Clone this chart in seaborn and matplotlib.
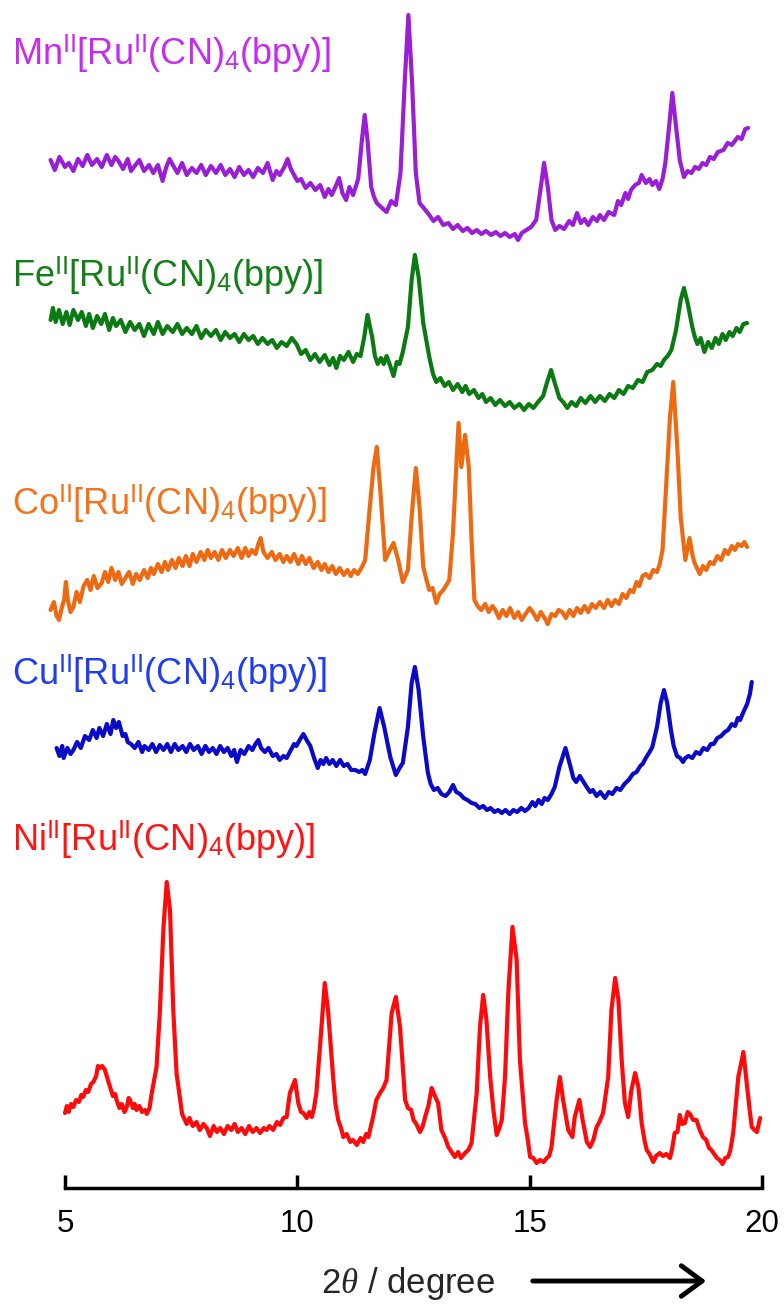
import matplotlib
matplotlib.use("Agg")
import matplotlib.pyplot as plt
from matplotlib.patches import FancyArrowPatch
import seaborn as sns
import numpy as np

# XRD patterns (arbitrary intensity units)
mn_2theta = [4.69, 4.78, 4.88, 5.00, 5.08, 5.18, 5.28, 5.38, 5.48, 5.58, 5.69, 5.79, 5.90, 6.00, 6.08, 6.15,
             6.25, 6.35, 6.42, 6.50, 6.60, 6.70, 6.81, 6.90, 7.00, 7.10, 7.18, 7.25, 7.32, 7.42, 7.52, 7.62,
             7.73, 7.83, 7.93, 8.03, 8.14, 8.25, 8.35, 8.45, 8.55, 8.65, 8.75, 8.85, 8.95, 9.05, 9.15, 9.26,
             9.36, 9.47, 9.55, 9.62, 9.72, 9.79, 9.86, 9.93, 10.00, 10.08, 10.18, 10.28, 10.39, 10.49, 10.59,
             10.67, 10.74, 10.82, 10.90, 10.97, 11.05, 11.12, 11.20, 11.27, 11.31, 11.39, 11.45, 11.51, 11.59,
             11.65, 11.71, 11.80, 11.92, 12.02, 12.12, 12.22, 12.31, 12.39, 12.47, 12.55, 12.63, 12.72, 12.84,
             12.93, 13.03, 13.14, 13.25, 13.35, 13.45, 13.56, 13.66, 13.76, 13.86, 13.96, 14.06, 14.17, 14.27,
             14.37, 14.47, 14.57, 14.68, 14.75, 14.83, 14.93, 15.03, 15.14, 15.24, 15.31, 15.39, 15.47, 15.55,
             15.64, 15.74, 15.85, 15.93, 16.02, 16.10, 16.18, 16.26, 16.36, 16.45, 16.51, 16.60, 16.70, 16.82,
             16.90, 16.97, 17.06, 17.12, 17.18, 17.27, 17.35, 17.41, 17.50, 17.58, 17.64, 17.72, 17.79, 17.86,
             17.92, 18.00, 18.07, 18.15, 18.23, 18.32, 18.40, 18.48, 18.56, 18.64, 18.72, 18.80, 18.88, 18.96,
             19.05, 19.17, 19.26, 19.35, 19.48, 19.56, 19.64, 19.70]
mn_counts = [85, 75, 88, 78, 82, 74, 86, 79, 90, 80, 86, 78, 90, 80, 88, 84,
             76, 86, 74, 79, 85, 74, 80, 72, 80, 64, 78, 86, 80, 72, 82, 70,
             77, 72, 80, 70, 79, 72, 80, 70, 76, 68, 78, 70, 75, 68, 77, 72,
             82, 65, 74, 70, 78, 86, 76, 70, 64, 66, 57, 62, 55, 60, 48,
             56, 50, 58, 67, 52, 45, 58, 50, 60, 66, 105, 130, 105, 58,
             48, 42, 38, 33, 44, 40, 72, 162, 230, 162, 72, 42, 37, 30,
             24, 28, 20, 22, 16, 20, 14, 17, 12, 15, 11, 14, 10, 13,
             9, 12, 8, 11, 5, 12, 15, 18, 25, 58, 82, 58, 25, 15,
             19, 16, 24, 20, 32, 22, 26, 20, 28, 24, 30, 25, 33, 30,
             44, 40, 52, 46, 55, 60, 62, 70, 62, 66, 60, 64, 56, 66,
             82, 118, 152, 118, 85, 68, 74, 72, 78, 76, 82, 80, 88, 86,
             93, 95, 102, 100, 108, 106, 116, 117]

fe_2theta = [4.69, 4.74, 4.80, 4.87, 4.95, 5.03, 5.10, 5.18, 5.28, 5.36, 5.45, 5.52, 5.60, 5.69, 5.78, 5.86,
             5.95, 6.03, 6.10, 6.20, 6.30, 6.40, 6.50, 6.60, 6.70, 6.80, 6.91, 7.00, 7.10, 7.20, 7.32, 7.42,
             7.52, 7.62, 7.73, 7.83, 7.93, 8.03, 8.14, 8.25, 8.35, 8.45, 8.55, 8.65, 8.75, 8.85, 8.95, 9.05,
             9.15, 9.25, 9.36, 9.46, 9.56, 9.66, 9.77, 9.88, 9.98, 10.08, 10.18, 10.28, 10.38, 10.48, 10.59,
             10.69, 10.77, 10.84, 10.92, 11.00, 11.10, 11.20, 11.28, 11.36, 11.44, 11.51, 11.61, 11.67, 11.73,
             11.80, 11.86, 11.92, 12.00, 12.07, 12.14, 12.20, 12.27, 12.38, 12.46, 12.53, 12.61, 12.71, 12.84,
             12.92, 12.99, 13.08, 13.17, 13.26, 13.35, 13.45, 13.55, 13.62, 13.70, 13.80, 13.90, 13.98, 14.06,
             14.16, 14.26, 14.36, 14.47, 14.57, 14.67, 14.78, 14.88, 14.98, 15.08, 15.18, 15.29, 15.37, 15.46,
             15.54, 15.64, 15.72, 15.81, 15.90, 16.00, 16.10, 16.20, 16.31, 16.41, 16.51, 16.62, 16.72, 16.82,
             16.92, 17.02, 17.12, 17.22, 17.33, 17.43, 17.53, 17.64, 17.74, 17.82, 17.89, 17.97, 18.05, 18.15,
             18.25, 18.32, 18.40, 18.50, 18.56, 18.61, 18.68, 18.76, 18.84, 18.92, 19.00, 19.07, 19.15, 19.22,
             19.30, 19.37, 19.45, 19.52, 19.60, 19.68]
fe_counts = [100, 112, 98, 110, 96, 108, 95, 110, 100, 108, 94, 106, 92, 104, 96, 106,
             90, 102, 94, 100, 88, 98, 90, 96, 84, 96, 86, 98, 86, 94, 88, 96,
             86, 92, 86, 94, 82, 90, 84, 90, 80, 88, 82, 86, 78, 86, 80, 84,
             76, 82, 76, 80, 72, 78, 74, 82, 76, 66, 70, 60, 66, 58, 65,
             55, 62, 52, 64, 60, 68, 58, 66, 64, 83, 105, 83, 64, 56,
             62, 56, 64, 54, 44, 58, 56, 68, 93, 140, 165, 143, 97, 63,
             46, 38, 42, 34, 38, 30, 36, 28, 34, 26, 30, 22, 26, 18,
             22, 15, 20, 14, 18, 12, 16, 10, 16, 12, 18, 24, 37, 50,
             37, 22, 18, 12, 18, 14, 22, 17, 24, 18, 24, 19, 26, 22,
             30, 26, 34, 32, 40, 38, 48, 50, 56, 54, 60, 64, 70, 90,
             120, 132, 117, 93, 82, 76, 82, 68, 78, 72, 82, 76, 86, 80,
             88, 84, 92, 88, 96, 97]

co_2theta = [4.69, 4.76, 4.82, 4.87, 4.93, 4.98, 5.02, 5.06, 5.12, 5.18, 5.25, 5.32, 5.40, 5.48, 5.55, 5.62,
             5.70, 5.79, 5.86, 5.93, 6.00, 6.08, 6.15, 6.22, 6.30, 6.38, 6.46, 6.53, 6.61, 6.70, 6.78, 6.85,
             6.91, 7.00, 7.08, 7.15, 7.22, 7.30, 7.38, 7.45, 7.53, 7.60, 7.68, 7.75, 7.83, 7.92, 8.00, 8.07,
             8.14, 8.22, 8.30, 8.38, 8.46, 8.55, 8.63, 8.72, 8.80, 8.88, 8.95, 9.02, 9.10, 9.16, 9.21, 9.27,
             9.36, 9.45, 9.53, 9.62, 9.70, 9.77, 9.85, 9.93, 10.02, 10.10, 10.18, 10.26, 10.35, 10.44, 10.52,
             10.59, 10.67, 10.75, 10.83, 10.91, 11.00, 11.08, 11.15, 11.22, 11.30, 11.38, 11.46, 11.56, 11.64,
             11.71, 11.79, 11.89, 11.96, 12.07, 12.17, 12.27, 12.38, 12.46, 12.55, 12.63, 12.71, 12.78, 12.84,
             12.91, 12.99, 13.06, 13.14, 13.22, 13.27, 13.35, 13.42, 13.47, 13.53, 13.61, 13.69, 13.75, 13.81,
             13.88, 13.96, 14.04, 14.12, 14.20, 14.26, 14.34, 14.42, 14.50, 14.58, 14.67, 14.75, 14.83, 14.91,
             15.00, 15.08, 15.16, 15.24, 15.32, 15.39, 15.47, 15.55, 15.62, 15.70, 15.78, 15.86, 15.94, 16.02,
             16.10, 16.18, 16.26, 16.34, 16.42, 16.51, 16.60, 16.68, 16.76, 16.84, 16.92, 17.00, 17.08, 17.16,
             17.23, 17.30, 17.36, 17.43, 17.50, 17.58, 17.66, 17.74, 17.80, 17.86, 17.94, 18.02, 18.09, 18.18,
             18.25, 18.35, 18.44, 18.50, 18.54, 18.60, 18.66, 18.73, 18.80, 18.88, 18.96, 19.04, 19.12, 19.20,
             19.27, 19.35, 19.42, 19.48, 19.56, 19.62, 19.68]
co_counts = [20, 28, 14, 10, 22, 30, 48, 30, 18, 23, 38, 28, 44, 50, 40, 54,
             42, 47, 58, 48, 62, 50, 58, 46, 52, 58, 46, 56, 50, 60, 52, 62,
             56, 66, 58, 68, 60, 70, 62, 72, 64, 74, 64, 76, 68, 78, 70, 80,
             72, 78, 70, 80, 72, 80, 74, 82, 72, 82, 74, 80, 76, 86, 92, 78,
             72, 78, 70, 76, 68, 74, 68, 76, 66, 74, 66, 72, 62, 68, 60,
             66, 58, 64, 56, 62, 55, 60, 54, 60, 56, 62, 70, 123, 163,
             183, 137, 70, 77, 87, 70, 48, 60, 113, 162, 123, 63, 50, 40,
             42, 27, 36, 40, 46, 50, 97, 163, 207, 163, 195, 163, 90, 30,
             24, 20, 26, 18, 24, 20, 12, 20, 14, 22, 12, 18, 10, 16,
             22, 17, 10, 18, 12, 6, 16, 14, 20, 18, 12, 20, 14, 22,
             17, 24, 18, 26, 22, 28, 22, 30, 24, 30, 26, 36, 32, 40,
             38, 48, 44, 54, 56, 52, 60, 58, 66, 80, 147, 213, 248, 180,
             113, 70, 92, 76, 68, 62, 56, 64, 60, 68, 66, 74, 70, 80,
             76, 84, 80, 86, 84, 88, 83]

cu_2theta = [4.82, 4.88, 4.94, 4.97, 5.05, 5.12, 5.18, 5.26, 5.34, 5.43, 5.52, 5.60, 5.68, 5.74, 5.82, 5.90,
             5.98, 6.04, 6.10, 6.16, 6.24, 6.30, 6.35, 6.42, 6.50, 6.58, 6.66, 6.71, 6.80, 6.88, 6.96, 7.04,
             7.12, 7.20, 7.28, 7.36, 7.44, 7.53, 7.61, 7.69, 7.77, 7.86, 7.94, 8.02, 8.10, 8.18, 8.26, 8.34,
             8.42, 8.50, 8.58, 8.64, 8.70, 8.78, 8.86, 8.95, 9.03, 9.10, 9.16, 9.22, 9.30, 9.38, 9.47, 9.55,
             9.62, 9.70, 9.77, 9.86, 9.93, 9.98, 10.05, 10.13, 10.20, 10.28, 10.36, 10.44, 10.50, 10.56, 10.62,
             10.69, 10.76, 10.84, 10.92, 11.00, 11.08, 11.16, 11.25, 11.33, 11.40, 11.46, 11.56, 11.66, 11.77,
             11.87, 12.00, 12.12, 12.20, 12.27, 12.38, 12.46, 12.53, 12.61, 12.71, 12.81, 12.87, 12.94, 13.02,
             13.10, 13.19, 13.27, 13.35, 13.42, 13.50, 13.58, 13.66, 13.75, 13.83, 13.92, 14.00, 14.08, 14.16,
             14.24, 14.32, 14.40, 14.48, 14.57, 14.65, 14.73, 14.82, 14.90, 14.98, 15.06, 15.12, 15.19, 15.26,
             15.32, 15.39, 15.47, 15.54, 15.64, 15.77, 15.88, 15.94, 16.00, 16.08, 16.16, 16.24, 16.30, 16.36,
             16.44, 16.52, 16.62, 16.70, 16.78, 16.87, 16.95, 17.04, 17.13, 17.22, 17.30, 17.38, 17.43, 17.50,
             17.58, 17.64, 17.74, 17.82, 17.89, 17.96, 18.04, 18.10, 18.17, 18.24, 18.30, 18.35, 18.42, 18.50,
             18.58, 18.66, 18.74, 18.82, 18.90, 18.96, 19.04, 19.12, 19.20, 19.27, 19.35, 19.42, 19.48, 19.53,
             19.60, 19.68, 19.74, 19.78]
cu_counts = [72, 64, 74, 62, 72, 66, 70, 78, 72, 84, 80, 90, 82, 92, 84, 96,
             86, 100, 92, 98, 84, 86, 78, 76, 72, 78, 68, 74, 70, 76, 68, 75,
             70, 76, 68, 76, 70, 74, 68, 76, 70, 74, 66, 74, 68, 72, 66, 74,
             68, 72, 64, 70, 58, 70, 66, 74, 70, 76, 80, 72, 68, 72, 64, 66,
             60, 64, 62, 70, 76, 74, 80, 86, 80, 74, 62, 52, 60, 56, 62,
             56, 60, 54, 60, 54, 56, 50, 50, 48, 50, 46, 60, 87, 112,
             93, 63, 45, 52, 57, 93, 137, 153, 130, 83, 47, 36, 30, 32,
             26, 24, 28, 35, 28, 26, 22, 20, 17, 16, 12, 14, 10, 12,
             8, 10, 7, 10, 6, 10, 8, 12, 9, 12, 18, 14, 20, 16,
             22, 20, 26, 33, 53, 72, 53, 42, 38, 44, 38, 32, 28, 30,
             24, 28, 22, 28, 26, 32, 30, 36, 40, 46, 48, 54, 56, 62,
             68, 73, 93, 117, 130, 117, 90, 74, 64, 62, 58, 62, 64, 62,
             68, 66, 72, 70, 76, 76, 82, 84, 88, 90, 96, 94, 102, 100,
             108, 116, 126, 138]

ni_2theta = [5.00, 5.04, 5.08, 5.13, 5.18, 5.24, 5.30, 5.35, 5.39, 5.45, 5.50, 5.56, 5.61, 5.67, 5.71, 5.75,
             5.80, 5.86, 5.91, 5.97, 6.03, 6.08, 6.11, 6.17, 6.22, 6.28, 6.33, 6.37, 6.40, 6.46, 6.50, 6.54,
             6.60, 6.66, 6.72, 6.76, 6.82, 6.86, 6.97, 7.04, 7.12, 7.19, 7.26, 7.33, 7.40, 7.47, 7.52, 7.55,
             7.62, 7.68, 7.75, 7.83, 7.90, 7.98, 8.05, 8.12, 8.20, 8.27, 8.34, 8.42, 8.50, 8.58, 8.65, 8.72,
             8.80, 8.88, 8.96, 9.04, 9.12, 9.20, 9.28, 9.34, 9.40, 9.48, 9.56, 9.63, 9.70, 9.77, 9.84, 9.95,
             10.02, 10.08, 10.13, 10.20, 10.26, 10.31, 10.36, 10.41, 10.52, 10.59, 10.66, 10.77, 10.82, 10.88,
             10.94, 10.99, 11.06, 11.14, 11.20, 11.28, 11.36, 11.42, 11.48, 11.53, 11.63, 11.70, 11.78, 11.85,
             11.92, 12.03, 12.12, 12.21, 12.32, 12.38, 12.45, 12.50, 12.56, 12.64, 12.70, 12.75, 12.82, 12.89,
             12.96, 13.03, 13.10, 13.18, 13.25, 13.32, 13.39, 13.46, 13.52, 13.61, 13.68, 13.75, 13.86, 13.93,
             14.00, 14.07, 14.15, 14.22, 14.29, 14.35, 14.40, 14.47, 14.54, 14.63, 14.72, 14.79, 14.90, 14.96,
             15.01, 15.08, 15.15, 15.22, 15.30, 15.37, 15.42, 15.47, 15.58, 15.65, 15.72, 15.83, 15.92, 15.97,
             16.07, 16.14, 16.23, 16.30, 16.37, 16.44, 16.50, 16.58, 16.69, 16.76, 16.84, 16.91, 16.98, 17.05,
             17.12, 17.19, 17.27, 17.34, 17.41, 17.47, 17.52, 17.58, 17.66, 17.72, 17.80, 17.87, 17.94, 18.02,
             18.07, 18.12, 18.18, 18.23, 18.28, 18.34, 18.40, 18.45, 18.52, 18.59, 18.66, 18.73, 18.80, 18.86,
             18.91, 18.97, 19.03, 19.09, 19.15, 19.21, 19.27, 19.32, 19.38, 19.49, 19.60, 19.68, 19.74, 19.78,
             19.84, 19.89, 19.96]
ni_counts = [57, 64, 58, 66, 63, 70, 68, 75, 73, 80, 78, 86, 88, 94, 104, 102,
             104, 100, 92, 83, 74, 76, 70, 62, 66, 58, 63, 72, 70, 62, 66, 60,
             64, 58, 60, 56, 62, 75, 103, 157, 243, 288, 260, 160, 97, 73, 56, 53,
             46, 52, 44, 48, 40, 46, 42, 34, 44, 38, 42, 36, 44, 40, 46, 38,
             42, 36, 44, 38, 42, 37, 42, 40, 44, 40, 48, 45, 52, 53, 77, 90,
             67, 58, 57, 52, 58, 53, 62, 77, 143, 187, 160, 93, 66, 50,
             42, 33, 36, 28, 30, 25, 32, 28, 36, 33, 53, 70, 77, 82,
             90, 157, 173, 143, 70, 62, 60, 50, 46, 38, 44, 53, 64, 82,
             74, 67, 40, 32, 23, 18, 13, 18, 12, 17, 20, 27, 77, 143,
             175, 150, 93, 60, 35, 42, 50, 93, 177, 243, 210, 110, 47, 30,
             13, 12, 7, 10, 8, 12, 14, 23, 70, 93, 70, 40, 33, 53,
             70, 50, 28, 23, 30, 43, 48, 57, 93, 160, 192, 170, 110, 67,
             53, 80, 97, 83, 47, 30, 20, 16, 8, 14, 17, 14, 16, 12,
             22, 37, 38, 55, 46, 47, 58, 56, 50, 50, 40, 33, 30, 22,
             20, 16, 12, 10, 6, 12, 13, 20, 37, 93, 118, 83, 58, 43,
             40, 38, 52]

labels = [r"Mn$^{\mathrm{II}}$[Ru$^{\mathrm{II}}$(CN)$_{4}$(bpy)]",
          r"Fe$^{\mathrm{II}}$[Ru$^{\mathrm{II}}$(CN)$_{4}$(bpy)]",
          r"Co$^{\mathrm{II}}$[Ru$^{\mathrm{II}}$(CN)$_{4}$(bpy)]",
          r"Cu$^{\mathrm{II}}$[Ru$^{\mathrm{II}}$(CN)$_{4}$(bpy)]",
          r"Ni$^{\mathrm{II}}$[Ru$^{\mathrm{II}}$(CN)$_{4}$(bpy)]"]
series = [(mn_2theta, mn_counts), (fe_2theta, fe_counts), (co_2theta, co_counts),
          (cu_2theta, cu_counts), (ni_2theta, ni_counts)]

# vertical stacking and styling
offsets = [943, 768, 558, 368, 18]
label_y = [1123, 901, 673, 503, 337]
line_colors = ["#9A1ED6", "#0B7A12", "#EE6A12", "#0A0AC8", "#FF0A0A"]
label_colors = ["#C72BF2", "#137F17", "#F2731A", "#1F3DF0", "#FF1414"]

sns.set_theme(style="white")
plt.rcParams["font.family"] = ["Liberation Sans", "DejaVu Sans"]
plt.rcParams["mathtext.fontset"] = "custom"
plt.rcParams["mathtext.rm"] = "Liberation Sans"
plt.rcParams["mathtext.it"] = "Liberation Serif:italic"

fig = plt.figure(figsize=(7.84, 13.04), dpi=100)
ax = fig.add_axes([65 / 784, 116 / 1304, 697 / 784, 1188 / 1304])

for (tt, cts), off, lc in zip(series, offsets, line_colors):
    sns.lineplot(x=tt, y=np.array(cts) + off, ax=ax, color=lc, lw=3.0,
                 estimator=None, sort=False, clip_on=False)

for lab, ly, col in zip(labels, label_y, label_colors):
    ax.text(3.85, ly, lab, color=col, fontsize=26, va="baseline", ha="left", clip_on=False)

ax.set_xlim(5, 20)
ax.set_ylim(0, 1188)
ax.set_yticks([])
ax.set_xticks([5, 10, 15, 20])
ax.set_xticklabels(["5", "10", "15", "20"])
for s in ["left", "right", "top"]:
    ax.spines[s].set_visible(False)
ax.spines["bottom"].set_linewidth(2.5)
ax.spines["bottom"].set_color("black")
ax.tick_params(axis="x", direction="in", length=9.5, width=2.5, color="black",
               labelsize=22.5, pad=15, labelcolor="black", bottom=True)
ax.set_xlabel("")
ax.set_ylabel("")
ax.grid(False)

# axis title with arrow
fig.text(321 / 784, 1 - 1293 / 1304, r"2$\theta$ / degree", fontsize=25, va="baseline", ha="left")
arrow = FancyArrowPatch((530 / 784, 1 - 1281 / 1304), (709 / 784, 1 - 1281 / 1304),
                        transform=fig.transFigure, arrowstyle="->,head_length=0.75,head_width=0.55",
                        mutation_scale=20, lw=3.5, color="black")
fig.add_artist(arrow)

fig.savefig("out.png", dpi=100)
